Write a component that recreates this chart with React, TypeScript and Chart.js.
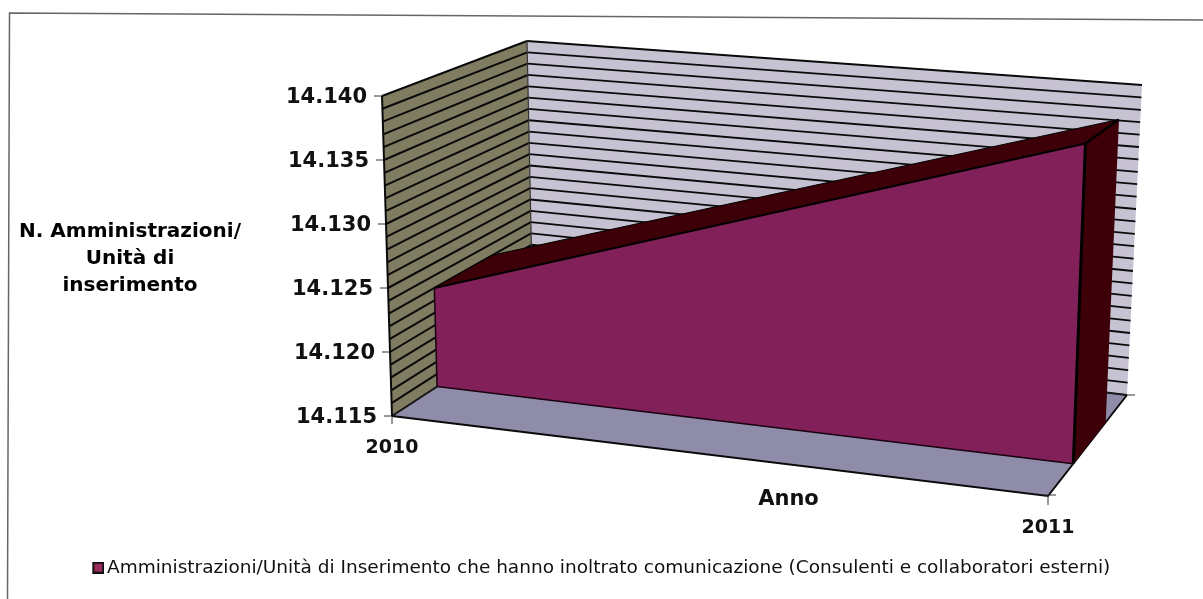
import React, { useEffect, useRef } from "react";
import { Chart, registerables } from "chart.js";

Chart.register(...registerables);

// ---- data ----
const years = ["2010", "2011"];
const serieValues = [14123, 14138.5];
const baseValues = [14115, 14115];
const serieLabel =
  "Amministrazioni/Unità di Inserimento che hanno inoltrato comunicazione (Consulenti e collaboratori esterni)";
const yTitleLines = ["N. Amministrazioni/", "Unità di", "inserimento"];
const xTitle = "Anno";
const yMin = 14115;
const yMax = 14140;
const yLabelStep = 5;
const yGridStep = 1;

// ---- 3D view of the plot box (u: category, v: value, d: depth) ----
const VIEW = {
  fbl: [392, 416], ftl: [382, 96], fbr: [1048, 496], ftr: [1060, 141],
  bbl: [533, 324], btl: [527, 41], bbr: [1127, 395], btr: [1142, 85],
};
const AREA_FRONT = 0.32;
const AREA_BACK = 0.73;

const lerp = (a: number, b: number, t: number) => a + (b - a) * t;
function project(u: number, v: number, d: number): [number, number] {
  const at = (i: number) => {
    const bottomFront = lerp(VIEW.fbl[i], VIEW.fbr[i], u);
    const topFront = lerp(VIEW.ftl[i], VIEW.ftr[i], u);
    const bottomBack = lerp(VIEW.bbl[i], VIEW.bbr[i], u);
    const topBack = lerp(VIEW.btl[i], VIEW.btr[i], u);
    return lerp(lerp(bottomFront, topFront, v), lerp(bottomBack, topBack, v), d);
  };
  return [at(0), at(1)];
}

const COLORS = {
  leftWall: "#7f7c62",
  backWall: "#c6c2d2",
  floor: "#8e8ca8",
  front: "#82205a",
  swatch: "#982a5e",
  dark: "#3d0008",
  line: "#0a0a0a",
};
const FONT_BOLD = "'DejaVu Sans'";

function poly(ctx: CanvasRenderingContext2D, pts: [number, number][], fill?: string, stroke?: string, w = 1) {
  ctx.beginPath();
  pts.forEach((p, i) => (i ? ctx.lineTo(p[0], p[1]) : ctx.moveTo(p[0], p[1])));
  if (fill) {
    ctx.closePath();
    ctx.fillStyle = fill;
    ctx.fill();
  }
  if (stroke) {
    ctx.strokeStyle = stroke;
    ctx.lineWidth = w;
    ctx.stroke();
  }
}

const normU = (c: any, px: number) => (px - c.scales.x.left) / (c.scales.x.right - c.scales.x.left);
const normV = (c: any, px: number) => (c.scales.y.bottom - px) / (c.scales.y.bottom - c.scales.y.top);

const box3d = {
  id: "box3d",
  afterLayout(c: any) {
    // legend sits centred on the full picture
    c.legend.left += 9;
    c.legend.right += 9;
    // tick labels follow the slanted axes of the projected box
    c.scales.y.getLabelItems().forEach((item: any, i: number) => {
      const t = c.scales.y.ticks[i];
      const v = normV(c, c.scales.y.getPixelForValue(t.value));
      item.options.translation[0] = project(0, v, 0)[0] - 15;
      item.options.translation[1] += 2;
    });
    c.scales.x.getLabelItems().forEach((item: any, i: number) => {
      const p = project(i, 0, 0);
      item.options.translation[0] = p[0];
      item.options.translation[1] = p[1] + 21;
    });
  },
  afterDatasetsUpdate(c: any) {
    c.data.datasets.forEach((_: any, di: number) => {
      c.getDatasetMeta(di).data.forEach((pt: any, i: number) => {
        const xp = c.scales.x.getPixelForValue(i);
        const yp = c.scales.y.getPixelForValue(c.data.datasets[di].data[i]);
        const p = project(normU(c, xp), normV(c, yp), AREA_FRONT);
        pt.x = p[0];
        pt.y = p[1];
      });
    });
  },
  beforeDraw(c: any) {
    const ctx = c.ctx;
    ctx.save();
    ctx.beginPath();
    ctx.moveTo(7.5, 599);
    ctx.lineTo(9.5, 13);
    ctx.lineTo(1203, 20);
    ctx.strokeStyle = "#666";
    ctx.lineWidth = 1.5;
    ctx.stroke();
    ctx.fillStyle = "#000";
    ctx.textAlign = "center";
    ctx.textBaseline = "middle";
    ctx.font = `bold 20px ${FONT_BOLD}`;
    yTitleLines.forEach((t, i) => ctx.fillText(t, 130, 232 + i * 27));
    ctx.restore();
  },
  beforeDatasetsDraw(c: any) {
    const ctx = c.ctx;
    ctx.save();
    const P = project;
    poly(ctx, [P(0, 0, 0), P(0, 1, 0), P(0, 1, 1), P(0, 0, 1)], COLORS.leftWall);
    poly(ctx, [P(0, 0, 1), P(0, 1, 1), P(1, 1, 1), P(1, 0, 1)], COLORS.backWall);
    poly(ctx, [P(0, 0, 0), P(0, 0, 1), P(1, 0, 1), P(1, 0, 0)], COLORS.floor);

    // value grid lines run round the two walls, one per scale tick
    const y = c.scales.y;
    y.ticks.forEach((t: any) => {
      const v = normV(c, y.getPixelForValue(t.value));
      poly(ctx, [P(0, v, 0), P(0, v, 1)], undefined, COLORS.line, 2);
      poly(ctx, [P(0, v, 1), P(1, v, 1)], undefined, COLORS.line, 1.8);
      if (t.label) poly(ctx, [[P(0, v, 0)[0] - 8, P(0, v, 0)[1]], P(0, v, 0)], undefined, "#333", 1);
    });
    poly(ctx, [P(0, 1, 1), P(0, 0, 1)], undefined, "#333", 1.2);
    poly(ctx, [P(0, 1, 0), P(0, 0, 0)], undefined, COLORS.line, 2);
    poly(ctx, [P(0, 0, 0), P(0, 0, 1), P(1, 0, 1)], undefined, "#222", 1);
    poly(ctx, [P(0, 0, 0), P(1, 0, 0), P(1, 0, 1)], undefined, COLORS.line, 2);

    // axis tick marks at the floor corners
    const a = P(0, 0, 0), b = P(1, 0, 0), e = P(1, 0, 1);
    poly(ctx, [[a[0], a[1]], [a[0], a[1] + 8]], undefined, "#333", 1);
    poly(ctx, [[b[0] - 3, b[1] - 1], [b[0] + 8, b[1] - 1]], undefined, "#333", 1);
    poly(ctx, [[b[0], b[1]], [b[0], b[1] + 9]], undefined, "#333", 1);
    poly(ctx, [[e[0], e[1]], [e[0] + 8, e[1]]], undefined, "#333", 1);

    // depth faces of the area, from the series values
    const val = c.data.datasets[0].data;
    const v0 = normV(c, y.getPixelForValue(val[0]));
    const v1 = normV(c, y.getPixelForValue(val[1]));
    const F = AREA_FRONT, K = AREA_BACK;
    poly(ctx, [P(1, 0, F), P(1, v1, F), P(1, v1, K), P(1, 0, K)], COLORS.dark);
    poly(ctx, [P(0, v0, F), P(1, v1, F), P(1, v1, K), P(0, v0, K)], COLORS.dark);

    // front face: between the projected series points and the projected base points
    const top = c.getDatasetMeta(0).data;
    const base = c.getDatasetMeta(1).data;
    const pts: [number, number][] = [
      ...top.map((p: any) => [p.x, p.y] as [number, number]),
      ...[...base].reverse().map((p: any) => [p.x, p.y] as [number, number]),
    ];
    poly(ctx, pts, COLORS.front);
    ctx.restore();
  },
  afterDatasetsDraw(c: any) {
    const ctx = c.ctx;
    const y = c.scales.y;
    const val = c.data.datasets[0].data;
    const v0 = normV(c, y.getPixelForValue(val[0]));
    const v1 = normV(c, y.getPixelForValue(val[1]));
    const F = AREA_FRONT, K = AREA_BACK;
    ctx.save();
    poly(ctx, [project(0, 0, F), project(0, v0, F)], undefined, "#1a0010", 1.5);
    poly(ctx, [project(1, 0, F), project(1, v1, F)], undefined, "#000", 3);
    poly(ctx, [project(1, v1, F), project(1, v1, K)], undefined, "#000", 2.5);
    poly(ctx, [project(0, v0, F), project(0, v0, K)], undefined, "#000", 1);
    poly(ctx, [project(0, v0, K), project(1, v1, K)], undefined, "#000", 1);
    ctx.restore();
  },
};

function legendSwatch(): HTMLCanvasElement {
  const s = document.createElement("canvas");
  s.width = 18;
  s.height = 12;
  const g = s.getContext("2d")!;
  g.fillStyle = COLORS.swatch;
  g.fillRect(7, 1, 10, 10);
  g.strokeStyle = "#111";
  g.lineWidth = 2;
  g.strokeRect(7, 1, 10, 10);
  return s;
}

export default function App() {
  const ref = useRef<HTMLCanvasElement>(null);
  useEffect(() => {
    document.body.style.margin = "0";
    const chart = new Chart(ref.current!, {
      type: "line",
      data: {
        labels: years,
        datasets: [
          {
            label: serieLabel,
            data: serieValues,
            borderColor: "#000",
            borderWidth: 2,
            backgroundColor: COLORS.front,
            pointRadius: 0,
            tension: 0,
            fill: false,
            clip: false,
          },
          {
            label: "base",
            data: baseValues,
            borderColor: "#1a0010",
            borderWidth: 1.5,
            pointRadius: 0,
            tension: 0,
            fill: false,
            clip: false,
          },
        ],
      },
      plugins: [box3d],
      options: {
        responsive: false,
        animation: false,
        events: [],
        layout: { padding: { top: 96, right: 18, bottom: 12, left: 0 } },
        plugins: {
          tooltip: { enabled: false },
          title: { display: false },
          legend: {
            position: "bottom",
            labels: {
              font: { family: "'DejaVu Sans'", size: 18.5 },
              color: "#111",
              usePointStyle: true,
              pointStyle: legendSwatch(),
              boxWidth: 5,
              padding: 10,
              filter: (item: any) => item.datasetIndex === 0,
            },
          },
        },
        scales: {
          x: {
            type: "category",
            offset: false,
            grid: { display: false },
            border: { display: false },
            ticks: {
              maxRotation: 0,
              color: "#111",
              font: { family: FONT_BOLD, size: 19, weight: "bold" },
            },
            title: {
              display: true,
              text: xTitle,
              color: "#111",
              font: { family: FONT_BOLD, size: 21, weight: "bold" },
              padding: { top: 0, bottom: 36 },
            },
            afterFit: (s: any) => {
              s.height = 132.5;
              s.paddingRight = 0;
            },
          },
          y: {
            type: "linear",
            min: yMin,
            max: yMax,
            grid: { display: false },
            border: { display: false },
            afterFit: (s: any) => {
              s.width = 392;
            },
            ticks: {
              stepSize: yGridStep,
              autoSkip: false,
              color: "#111",
              font: { family: FONT_BOLD, size: 21, weight: "bold" },
              callback: (v: any) => (v % yLabelStep === 0 ? (v / 1000).toFixed(3) : ""),
            },
          },
        },
      },
    } as any);
    return () => chart.destroy();
  }, []);
  return <canvas ref={ref} width={1203} height={599} style={{ display: "block" }} />;
}
